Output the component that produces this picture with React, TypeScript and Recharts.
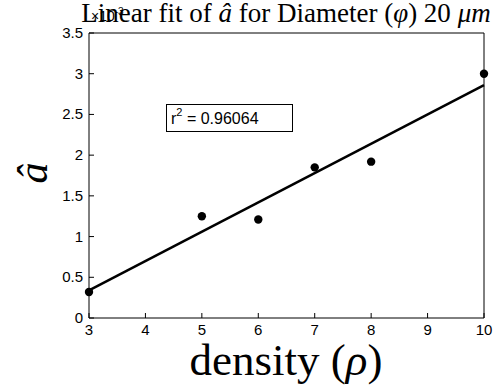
import { ScatterChart, Scatter, XAxis, YAxis } from "recharts"

// values in units of 1e-3
const density = [3, 5, 6, 7, 8, 10]
const aHat = [0.32, 1.25, 1.21, 1.85, 1.92, 3.0]
const fitX = [3, 10]
const fitY = [0.34, 2.86]
const xTicks = [3, 4, 5, 6, 7, 8, 9, 10]
const yTicks = [0, 0.5, 1, 1.5, 2, 2.5, 3, 3.5]

const points = density.map((x, i) => ({ x, y: aHat[i] }))
const fit = fitX.map((x, i) => ({ x, y: fitY[i] }))

const sans = "'Liberation Sans', Arial, sans-serif"
const serif = "'Liberation Serif', 'Times New Roman', serif"
const TL = 5

const BottomTick = (props: any) => {
    const { x, y, payload } = props
    return (
        <g>
            <line x1={x} x2={x} y1={y} y2={y - TL} stroke="#000" />
            <text x={x} y={y + 17} textAnchor="middle" fontSize={15} fontFamily={sans} fill="#000">
                {payload.value}
            </text>
        </g>
    )
}

const TopTick = (props: any) => {
    const { x, y } = props
    return <line x1={x} x2={x} y1={y} y2={y + TL} stroke="#000" />
}

const LeftTick = (props: any) => {
    const { x, y, payload } = props
    return (
        <g>
            <line x1={x} x2={x + TL} y1={y} y2={y} stroke="#000" />
            <text x={x - 6} y={y + 5} textAnchor="end" fontSize={15} fontFamily={sans} fill="#000">
                {payload.value}
            </text>
        </g>
    )
}

const RightTick = (props: any) => {
    const { x, y } = props
    return <line x1={x} x2={x - TL} y1={y} y2={y} stroke="#000" />
}

const Dot = (props: any) => <circle cx={props.cx} cy={props.cy} r={4.2} fill="#000" />
const NoDot = () => <g />

export default function App() {
    return (
        <div style={{ position: "relative", width: 500, height: 389, background: "#fff" }}>
            <style>{`body{margin:0}`}</style>
            <ScatterChart width={500} height={389} margin={{ top: 23, right: 6, bottom: 51, left: 49 }}>
                <XAxis
                    xAxisId="b"
                    type="number"
                    dataKey="x"
                    domain={[3, 10]}
                    ticks={xTicks}
                    height={20}
                    tickSize={0}
                    tickMargin={0}
                    tick={<BottomTick />}
                    tickLine={false}
                    stroke="#000"
                />
                <XAxis
                    xAxisId="t"
                    orientation="top"
                    type="number"
                    dataKey="x"
                    domain={[3, 10]}
                    ticks={xTicks}
                    height={10}
                    tickSize={0}
                    tickMargin={0}
                    tick={<TopTick />}
                    tickLine={false}
                    stroke="#000"
                />
                <YAxis
                    yAxisId="l"
                    type="number"
                    dataKey="y"
                    domain={[0, 3.5]}
                    ticks={yTicks}
                    width={40}
                    tickSize={0}
                    tickMargin={0}
                    tick={<LeftTick />}
                    tickLine={false}
                    stroke="#000"
                />
                <YAxis
                    yAxisId="r"
                    orientation="right"
                    type="number"
                    dataKey="y"
                    domain={[0, 3.5]}
                    ticks={yTicks}
                    width={10}
                    tickSize={0}
                    tickMargin={0}
                    tick={<RightTick />}
                    tickLine={false}
                    stroke="#000"
                />
                <Scatter
                    xAxisId="b"
                    yAxisId="l"
                    data={fit}
                    line={{ stroke: "#000", strokeWidth: 2.5 }}
                    lineType="joint"
                    shape={<NoDot />}
                    isAnimationActive={false}
                />
                <Scatter xAxisId="b" yAxisId="l" data={points} shape={<Dot />} isAnimationActive={false} />
            </ScatterChart>

            <div
                style={{
                    position: "absolute",
                    left: 91,
                    top: 9,
                    fontFamily: sans,
                    fontSize: 14,
                    color: "#000",
                    lineHeight: "14px",
                }}
            >
                ×10<sup style={{ fontSize: 10, verticalAlign: 6, lineHeight: 0 }}>-3</sup>
            </div>
            <div
                style={{
                    position: "absolute",
                    left: 0,
                    width: 572,
                    top: -3,
                    textAlign: "center",
                    fontFamily: serif,
                    fontSize: 27,
                    lineHeight: "32px",
                    whiteSpace: "nowrap",
                    color: "#000",
                }}
            >
                Linear fit of <i>â</i> for Diameter (<i>φ</i>) 20 <i>μm</i>
            </div>
            <div
                style={{
                    position: "absolute",
                    left: 8,
                    top: 148,
                    width: 50,
                    height: 50,
                    display: "flex",
                    alignItems: "center",
                    justifyContent: "center",
                    transform: "rotate(-90deg)",
                    fontFamily: serif,
                    fontStyle: "italic",
                    fontSize: 42,
                    color: "#000",
                }}
            >
                â
            </div>
            <div
                style={{
                    position: "absolute",
                    left: 0,
                    width: 572,
                    top: 335,
                    textAlign: "center",
                    fontFamily: serif,
                    fontSize: 45,
                    whiteSpace: "nowrap",
                    color: "#000",
                    lineHeight: "50px",
                }}
            >
                density (<i>ρ</i>)
            </div>
            <div
                style={{
                    position: "absolute",
                    left: 166,
                    top: 104,
                    width: 127,
                    height: 28,
                    border: "1px solid #000",
                    boxSizing: "border-box",
                    background: "#fff",
                    fontFamily: sans,
                    fontSize: 16,
                    color: "#000",
                    paddingLeft: 4,
                    lineHeight: "28px",
                }}
            >
                r<sup style={{ fontSize: 11, verticalAlign: 8, lineHeight: 0 }}>2</sup> = 0.96064
            </div>
        </div>
    )
}
